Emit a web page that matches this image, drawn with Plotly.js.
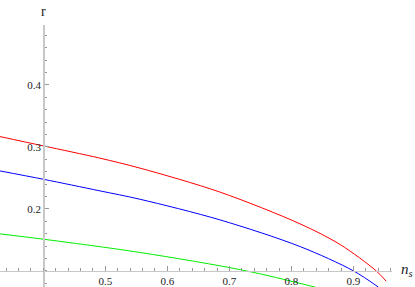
<!DOCTYPE html>
<html>
<head>
<meta charset="utf-8">
<script src="https://cdn.plot.ly/plotly-3.0.1.min.js"></script>
<style>html,body{margin:0;padding:0;background:#fff;}#chart{width:415px;height:287px;}</style>
</head>
<body>
<div id="chart"></div>
<script>
// Data
const nsRed = [0.3302, 0.40, 0.4914, 0.556, 0.685, 0.814, 0.8785, 0.9366, 0.9527];
const rRed  = [0.3166, 0.3016, 0.2818, 0.2657, 0.2270, 0.1758, 0.1425, 0.1000, 0.0834];

const nsBlue = [0.3302, 0.40, 0.4914, 0.556, 0.685, 0.814, 0.90, 0.9403];
const rBlue  = [0.2612, 0.2478, 0.2290, 0.2155, 0.1822, 0.1392, 0.1000, 0.0737];

const nsGreen = [0.3302, 0.40, 0.556, 0.7274, 0.8387];
const rGreen  = [0.1597, 0.1511, 0.1297, 0.1000, 0.0737];

const xTickVals = [0.5, 0.6, 0.7, 0.8, 0.9];
const xTickText = ["0.5", "0.6", "0.7", "0.8", "0.9"];
const yTickVals = [0.2, 0.3, 0.4];
const yTickText = ["0.2", "0.3", "0.4"];

const xRange = [0.3302, 0.9621];
const yRange = [0.0740, 0.4966];
const xCross = 0.4, yCross = 0.1;

const serif = "'Liberation Serif', 'Times New Roman', 'DejaVu Serif', serif";
const axisCommon = {
  showgrid: false, zeroline: false, showline: true,
  linecolor: "#c8c8c8", linewidth: 1.2,
  ticks: "inside", ticklen: 4.5, tickwidth: 1, tickcolor: "#999",
  tickfont: {family: serif, size: 11, color: "#222"},
  tickmode: "array", fixedrange: true
};

const data = [
  {x: nsRed, y: rRed, mode: "lines", line: {color: "#ff0000", width: 1, shape: "spline", smoothing: 0.9}, hoverinfo: "skip"},
  {x: nsBlue, y: rBlue, mode: "lines", line: {color: "#0000ff", width: 1, shape: "spline", smoothing: 0.9}, hoverinfo: "skip"},
  {x: nsGreen, y: rGreen, mode: "lines", line: {color: "#00ee00", width: 1, shape: "spline", smoothing: 0.9}, hoverinfo: "skip"}
];

const layout = {
  width: 415, height: 287,
  margin: {l: 0, r: 23, t: 25, b: 0, pad: 0},
  paper_bgcolor: "#fff", plot_bgcolor: "#fff",
  showlegend: false,
  font: {family: serif},
  xaxis: Object.assign({}, axisCommon, {
    range: xRange, tickvals: xTickVals, ticktext: xTickText,
    anchor: "free", side: "bottom",
    position: (yCross - yRange[0]) / (yRange[1] - yRange[0]),
    minor: {dtick: 0.02, tick0: 0, ticks: "inside", ticklen: 2.5, tickcolor: "#999", showgrid: false}
  }),
  yaxis: Object.assign({}, axisCommon, {
    range: yRange, tickvals: yTickVals, ticktext: yTickText,
    anchor: "free", side: "left",
    position: (xCross - xRange[0]) / (xRange[1] - xRange[0]),
    minor: {dtick: 0.02, tick0: 0, ticks: "inside", ticklen: 2.5, tickcolor: "#999", showgrid: false}
  }),
  annotations: [
    {text: "r", xref: "x", x: xCross, yref: "paper", y: 1, xanchor: "center", yanchor: "middle",
     yshift: 14, showarrow: false, font: {family: serif, size: 14, color: "#222"}},
    {text: "<i>n<sub>s</sub></i>", xref: "paper", x: 1, yref: "y", y: yCross, xanchor: "left", yanchor: "middle",
     xshift: 7, yshift: 1, showarrow: false, font: {family: serif, size: 15, color: "#222"}}
  ]
};

Plotly.newPlot("chart", data, layout, {staticPlot: true, displayModeBar: false});
</script>
</body>
</html>
